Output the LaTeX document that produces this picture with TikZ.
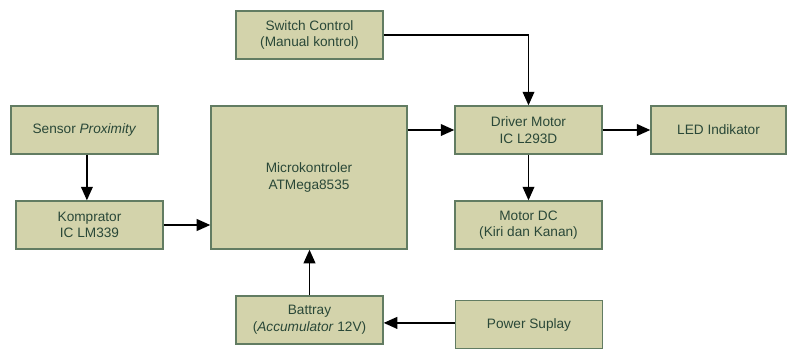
\documentclass[tikz,border=0pt]{standalone}
\usepackage{fontspec}
\setmainfont{Liberation Sans}
\usepackage{xcolor}
\usepackage{tikz}
\usetikzlibrary{arrows.meta,positioning,calc}

\definecolor{boxfill}{RGB}{211,211,171}
\definecolor{boxline}{RGB}{98,124,98}
\definecolor{boxtext}{RGB}{42,72,56}

\begin{document}
\begin{tikzpicture}[
  x=0.025cm, y=-0.025cm,
  block/.style={draw=boxline, line width=0.9pt, fill=boxfill, text=boxtext,
    minimum width=3.675cm, minimum height=1.2cm, align=center,
    inner sep=0pt, font=\fontsize{9.7}{11.8}\selectfont},
  arrow/.style={-{Triangle[length=3.4mm, width=2.9mm]}, line width=1.4pt}
]
\useasboundingbox (0,0) rectangle (787,350);
\node[block] (switch) at (309.5,35) {Switch Control\\(Manual kontrol)};
\node[block] (sensor) at (84.5,130) {Sensor \textit{Proximity}};
\node[block, minimum width=4.9cm, minimum height=3.575cm] (micro) at (309,177.5) {Microkontroler\\ATMega8535};
\node[block] (komp) at (89.5,225) {Komprator\\IC LM339};
\node[block] (battray) at (309.5,320) {Battray\\(\textit{Accumulator} 12V)};
\node[block] (driver) at (528.5,130) {Driver Motor\\IC L293D};
\node[block, minimum width=3.375cm] (led) at (718.5,130) {LED Indikator};
\node[block] (motor) at (528.5,225) {Motor DC\\(Kiri dan Kanan)};
\node[block] (power) at (529,324.5) {Power Suplay};
\draw[arrow] (switch.east) -| (driver.north);
\draw[arrow] ([xshift=0.06cm]sensor.south) -- ([xshift=0.06cm]sensor.south |- komp.north);
\draw[arrow] (komp.east) -- (micro.west |- komp.east);
\draw[arrow] (micro.east |- driver.west) -- (driver.west);
\draw[arrow] (driver.east) -- (led.west);
\draw[arrow] (driver.south) -- (motor.north);
\draw[arrow] (battray.north) -- (battray.north |- micro.south);
\draw[arrow] ([yshift=0.04cm]power.west) -- ([yshift=0.04cm]battray.east |- power.west);
\end{tikzpicture}
\end{document}
